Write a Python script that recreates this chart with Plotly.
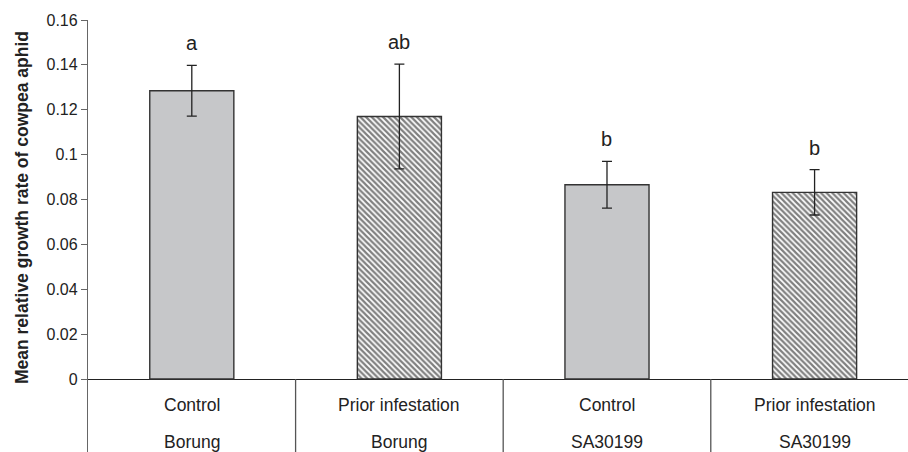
import plotly.graph_objects as go

# ---- data ----
treatments = ["Control", "Prior infestation", "Control", "Prior infestation"]
cultivars = ["Borung", "Borung", "SA30199", "SA30199"]
means = [0.1285, 0.1170, 0.0866, 0.0832]
errors = [0.0113, 0.0233, 0.0104, 0.0101]
letters = ["a", "ab", "b", "b"]
ytick_vals = [0, 0.02, 0.04, 0.06, 0.08, 0.1, 0.12, 0.14, 0.16]
ytick_text = ["0", "0.02", "0.04", "0.06", "0.08", "0.1", "0.12", "0.14", "0.16"]
y_title = "Mean relative growth rate of cowpea aphid"

pos = list(range(len(treatments)))
ctrl_idx = [i for i, t in enumerate(treatments) if t == "Control"]
prior_idx = [i for i, t in enumerate(treatments) if t != "Control"]

FONT = "Liberation Sans, Arial, sans-serif"
BAR_W = 0.405
Y_MIN = -0.0325

fig = go.Figure()
fig.add_trace(go.Bar(
    x=[pos[i] for i in ctrl_idx],
    y=[means[i] for i in ctrl_idx],
    width=BAR_W,
    marker=dict(color="#c6c7c9", line=dict(color="#333333", width=1.4)),
    error_y=dict(type="data", array=[errors[i] for i in ctrl_idx],
                 color="#222222", thickness=1.3, width=5),
    showlegend=False,
))
fig.add_trace(go.Bar(
    x=[pos[i] for i in prior_idx],
    y=[means[i] for i in prior_idx],
    width=BAR_W,
    marker=dict(color="white", line=dict(color="#333333", width=1.4),
                pattern=dict(shape="\\", fgcolor="#000000", bgcolor="white",
                             size=4, solidity=0.55, fillmode="overlay")),
    error_y=dict(type="data", array=[errors[i] for i in prior_idx],
                 color="#222222", thickness=1.3, width=5),
    showlegend=False,
))

annotations = []
for i in pos:
    annotations.append(dict(x=pos[i], y=means[i] + errors[i], xref="x", yref="y",
                            text=letters[i], showarrow=False, yanchor="bottom",
                            yshift=9, font=dict(family=FONT, size=20, color="#222222")))
    annotations.append(dict(x=pos[i], y=-0.0115, xref="x", yref="y",
                            text=treatments[i], showarrow=False, yanchor="middle",
                            font=dict(family=FONT, size=17.5, color="#222222")))
    annotations.append(dict(x=pos[i], y=-0.028, xref="x", yref="y",
                            text=cultivars[i], showarrow=False, yanchor="middle",
                            font=dict(family=FONT, size=17.5, color="#222222")))
annotations.append(dict(x=-0.0805, y=0.567, xref="paper", yref="paper",
                        text="<b>" + y_title + "</b>", textangle=-90, showarrow=False,
                        xanchor="center", yanchor="middle",
                        font=dict(family=FONT, size=17.5, color="#222222")))

shapes = []
for k in range(len(pos) - 1):
    shapes.append(dict(type="line", xref="x", yref="y", x0=k + 0.5, x1=k + 0.5,
                       y0=Y_MIN, y1=0, line=dict(color="#555555", width=1.3)))

fig.update_layout(
    width=908, height=452,
    margin=dict(l=88, r=0, t=20, b=0),
    paper_bgcolor="white", plot_bgcolor="white",
    barmode="overlay",
    font=dict(family=FONT, color="#222222"),
    xaxis=dict(range=[-0.5, 3.45], showgrid=False, zeroline=False, showline=False,
               showticklabels=False, ticks=""),
    yaxis=dict(range=[Y_MIN, 0.16], showgrid=False, zeroline=True,
               zerolinecolor="#222222", zerolinewidth=1.3,
               showline=True, linecolor="#666666", linewidth=1.3,
               ticks="outside", ticklen=6, tickcolor="#666666", tickwidth=1.3,
               tickvals=ytick_vals, ticktext=ytick_text,
               tickfont=dict(family=FONT, size=16, color="#222222")),
    annotations=annotations,
    shapes=shapes,
)

fig.write_html("out.html", config={"displayModeBar": False},
               post_script="document.body.style.margin='0';document.body.style.overflow='hidden';")
